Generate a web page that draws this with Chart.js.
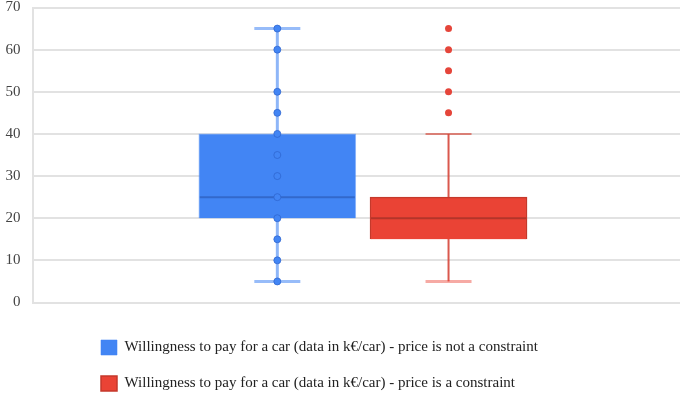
<!DOCTYPE html>
<html>
<head>
<meta charset="utf-8">
<script src="https://cdn.jsdelivr.net/npm/chart.js@4.4.1/dist/chart.umd.min.js"></script>
<style>
  html, body { margin: 0; padding: 0; background: #ffffff; overflow: hidden; }
  #wrap { width: 685px; height: 398px; position: relative; }
</style>
</head>
<body>
<div id="wrap"><canvas id="c"></canvas></div>
<script>
// ---- data ----
const seriesLabels = [
  'Willingness to pay for a car (data in k€/car) - price is not a constraint',
  'Willingness to pay for a car (data in k€/car) - price is a constraint'
];
const groupPositions = [1, 2];
const whiskerLow  = [5, 5];
const quartile1   = [20, 15];
const medians     = [25, 20];
const quartile3   = [40, 25];
const whiskerHigh = [65, 40];
const notConstraintPoints = [5, 10, 15, 20, 25, 30, 35, 40, 45, 50, 60, 65];
const constraintOutliers  = [45, 50, 55, 60, 65];
const yTickValues = [0, 10, 20, 30, 40, 50, 60, 70];

// ---- styles ----
const boxFill   = ['#4285F4', '#EA4335'];
const boxBorder = ['rgba(66,133,244,0.55)', '#C5392B'];
const medianCol = ['rgba(45,95,190,0.75)', '#B3342A'];
const whiskerCol = ['rgba(66,133,244,0.6)', 'rgba(214,70,58,0.9)'];
const whiskerW  = [3, 2];
const capTopStyle = [{c:'rgba(66,133,244,0.55)', w:3}, {c:'rgba(214,70,58,0.85)', w:1.5}];
const capBotStyle = [{c:'rgba(66,133,244,0.55)', w:3}, {c:'rgba(234,67,53,0.45)', w:3}];
const capHalf = 23;

const boxParts = {
  id: 'boxParts',
  beforeDatasetsDraw(chart) {
    const {ctx, scales: {x, y}} = chart;
    groupPositions.forEach((g, i) => {
      const px = x.getPixelForValue(g);
      const yl = y.getPixelForValue(whiskerLow[i]);
      const yh = y.getPixelForValue(whiskerHigh[i]);
      ctx.save();
      ctx.strokeStyle = whiskerCol[i];
      ctx.lineWidth = whiskerW[i];
      ctx.beginPath(); ctx.moveTo(px, yl); ctx.lineTo(px, yh); ctx.stroke();
      ctx.strokeStyle = capTopStyle[i].c; ctx.lineWidth = capTopStyle[i].w;
      ctx.beginPath(); ctx.moveTo(px - capHalf, yh); ctx.lineTo(px + capHalf, yh); ctx.stroke();
      ctx.strokeStyle = capBotStyle[i].c; ctx.lineWidth = capBotStyle[i].w;
      ctx.beginPath(); ctx.moveTo(px - capHalf, yl); ctx.lineTo(px + capHalf, yl); ctx.stroke();
      ctx.restore();
    });
  },
  afterDatasetDraw(chart, args) {
    const ds = chart.data.datasets[args.index];
    if (ds.type !== 'bar') return;
    const i = ds.groupIndex;
    const el = args.meta.data[0];
    const {ctx, scales: {y}} = chart;
    const ym = y.getPixelForValue(medians[i]);
    ctx.save();
    ctx.strokeStyle = medianCol[i];
    ctx.lineWidth = 2;
    ctx.beginPath(); ctx.moveTo(el.x - el.width / 2 + 1, ym); ctx.lineTo(el.x + el.width / 2 - 1, ym); ctx.stroke();
    ctx.restore();
  }
};

const shiftLegend = {
  id: 'shiftLegend',
  afterLayout(chart) {
    if (chart.legend) chart.legend.left = 80;
  }
};

const datasets = [
  {
    type: 'bar', label: seriesLabels[0], groupIndex: 0, order: 2,
    data: [{x: groupPositions[0], y: [quartile1[0], quartile3[0]]}],
    backgroundColor: boxFill[0], borderColor: boxBorder[0], borderWidth: 1,
    barThickness: 157, grouped: false
  },
  {
    type: 'bar', label: seriesLabels[1], groupIndex: 1, order: 2,
    data: [{x: groupPositions[1], y: [quartile1[1], quartile3[1]]}],
    backgroundColor: boxFill[1], borderColor: boxBorder[1], borderWidth: 1.5,
    barThickness: 157, grouped: false
  },
  {
    type: 'scatter', label: 'points0', order: 1,
    data: notConstraintPoints.map(v => ({x: groupPositions[0], y: v})),
    backgroundColor: '#4285F4', borderColor: 'rgba(45,100,205,0.75)', borderWidth: 1,
    pointRadius: 3.5
  },
  {
    type: 'scatter', label: 'points1', order: 1,
    data: constraintOutliers.map(v => ({x: groupPositions[1], y: v})),
    backgroundColor: '#E5453A', borderColor: '#E5453A', borderWidth: 0,
    pointRadius: 3.5
  }
];

new Chart(document.getElementById('c'), {
  type: 'bar',
  data: { datasets },
  plugins: [boxParts, shiftLegend],
  options: {
    responsive: true,
    maintainAspectRatio: false,
    animation: false,
    layout: { padding: { top: 0, right: 2, bottom: -3, left: 0 } },
    plugins: {
      tooltip: { enabled: false },
      legend: {
        position: 'bottom',
        align: 'start',
        labels: {
          filter: (item, data) => data.datasets[item.datasetIndex].type === 'bar',
          boxWidth: 16, boxHeight: 15, padding: 21,
          color: '#222',
          font: { family: 'Liberation Serif', size: 15 }
        }
      }
    },
    scales: {
      x: {
        type: 'linear', min: -0.43, max: 3.352, offset: false,
        ticks: { display: false },
        grid: { display: false },
        border: { display: false },
        afterFit: (axis) => { axis.height = 16.5; }
      },
      y: {
        min: 0, max: 70,
        afterBuildTicks: (axis) => { axis.ticks = yTickValues.map(v => ({value: v})); },
        ticks: { color: '#444', padding: 0, font: { family: 'Liberation Serif', size: 15, lineHeight: 1.0 } },
        grid: { color: '#e2e2e2', lineWidth: 2, drawTicks: true, tickLength: 12, tickColor: 'rgba(0,0,0,0)' },
        border: { color: '#e2e2e2', width: 2 },
        afterFit: (axis) => { axis.width = 32.5; }
      }
    }
  }
});
</script>
</body>
</html>
